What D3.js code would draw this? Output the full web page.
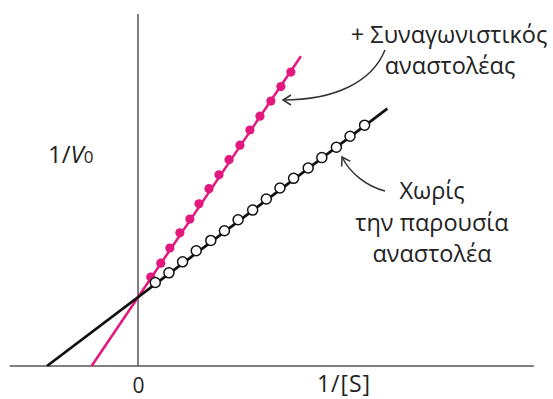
<!DOCTYPE html>
<html>
<head>
<meta charset="utf-8">
<script src="https://cdn.jsdelivr.net/npm/d3@7"></script>
<style>
  body { margin: 0; background: #fff; }
  svg { display: block; font-family: "Open Sans", "Noto Sans", sans-serif; }
</style>
</head>
<body>
<svg id="chart" width="553" height="399"></svg>
<script>
// values (1/[S] and 1/V0 in arbitrary units)
const xExtent = [-1.41, 4.35];
const yExtent = [0, 5.1];
const xTicks = [0];

// without inhibitor: open circles
const controlX = [0.19, 0.34, 0.49, 0.64, 0.8, 0.95, 1.1, 1.26, 1.41, 1.56, 1.71, 1.87, 2.02, 2.18, 2.33, 2.49];
const controlY = [1.21, 1.35, 1.51, 1.67, 1.82, 1.96, 2.12, 2.26, 2.42, 2.58, 2.72, 2.87, 3.02, 3.17, 3.33, 3.49];
const controlLine = [[-1, 0], [2.74, 3.73]];

// + competitive inhibitor: filled dots
const inhibX = [0.14, 0.25, 0.35, 0.46, 0.57, 0.67, 0.78, 0.89, 1.0, 1.12, 1.23, 1.34, 1.46, 1.57, 1.68];
const inhibY = [1.29, 1.49, 1.71, 1.93, 2.13, 2.35, 2.57, 2.77, 2.99, 3.2, 3.42, 3.62, 3.84, 4.05, 4.26];
const inhibLine = [[-0.51, 0], [1.79, 4.49]];

const magenta = '#e2187f';
const axisColor = '#555';

const svg = d3.select('#chart');

const x = d3.scaleLinear().domain([-1, 0]).range([47, 138]);
const y = d3.scaleLinear().domain([0, 1]).range([366, 297]);

// axes
svg.append('line')
  .attr('x1', x(xExtent[0])).attr('x2', x(xExtent[1]))
  .attr('y1', y(0)).attr('y2', y(0))
  .attr('stroke', axisColor).attr('stroke-width', 1.5);
svg.append('line')
  .attr('x1', x(0)).attr('x2', x(0))
  .attr('y1', y(yExtent[0])).attr('y2', y(yExtent[1]))
  .attr('stroke', axisColor).attr('stroke-width', 1.5);

svg.selectAll('.tick-label')
  .data(xTicks)
  .join('text')
  .attr('class', 'tick-label')
  .attr('x', d => x(d) + 0.5)
  .attr('y', 393)
  .attr('text-anchor', 'middle')
  .style('font-size', '21px')
  .attr('fill', '#222')
  .text(d => d);

svg.append('text')
  .attr('x', 344).attr('y', 392)
  .attr('text-anchor', 'middle')
  .style('font-size', '23px')
  .style('letter-spacing', '1px')
  .attr('fill', '#222')
  .text('1/[S]');

const yLabel = svg.append('text')
  .attr('x', 48).attr('y', 163)
  .style('font-size', '24px')
  .attr('fill', '#222');
yLabel.append('tspan').text('1/');
yLabel.append('tspan').style('font-style', 'italic').text('V');
yLabel.append('tspan').style('font-size', '17px').text('0');

// fitted lines
const line = d3.line().x(d => x(d[0])).y(d => y(d[1]));

svg.append('path')
  .attr('d', line(inhibLine))
  .attr('fill', 'none')
  .attr('stroke', magenta)
  .attr('stroke-width', 2.5);

svg.selectAll('.inhib')
  .data(d3.zip(inhibX, inhibY))
  .join('circle')
  .attr('class', 'inhib')
  .attr('cx', d => x(d[0]))
  .attr('cy', d => y(d[1]))
  .attr('r', 4.6)
  .attr('fill', magenta);

svg.append('path')
  .attr('d', line(controlLine))
  .attr('fill', 'none')
  .attr('stroke', '#111')
  .attr('stroke-width', 2.8);

svg.selectAll('.control')
  .data(d3.zip(controlX, controlY))
  .join('circle')
  .attr('class', 'control')
  .attr('cx', d => x(d[0]))
  .attr('cy', d => y(d[1]))
  .attr('r', 5)
  .attr('fill', '#fff')
  .attr('stroke', '#111')
  .attr('stroke-width', 1.5);

// annotations
const notes = svg.append('g')
  .attr('fill', '#222')
  .attr('text-anchor', 'middle')
  .style('font-size', '23.5px');

notes.append('text').attr('x', 449).attr('y', 43).text('+ Συναγωνιστικός');
notes.append('text').attr('x', 450).attr('y', 74).text('αναστολέας');

notes.append('text').attr('x', 432).attr('y', 199).text('Χωρίς');
notes.append('text').attr('x', 432).attr('y', 231).text('την παρουσία');
notes.append('text').attr('x', 432).attr('y', 262).text('αναστολέα');

// arrows
const arrows = [
  { d: 'M385,50 C372,82 335,100 283,100', tip: [283, 100], angle: 180 },
  { d: 'M385,191 C366,186 350,173 342,157', tip: [342, 157], angle: 240 }
];

arrows.forEach(a => {
  svg.append('path')
    .attr('d', a.d)
    .attr('fill', 'none')
    .attr('stroke', '#333')
    .attr('stroke-width', 1.5);
  svg.append('path')
    .attr('d', 'M8,-5 L0,0 L8,5')
    .attr('transform', `translate(${a.tip[0]},${a.tip[1]}) rotate(${a.angle - 180})`)
    .attr('fill', 'none')
    .attr('stroke', '#333')
    .attr('stroke-width', 1.5);
});
</script>
</body>
</html>
